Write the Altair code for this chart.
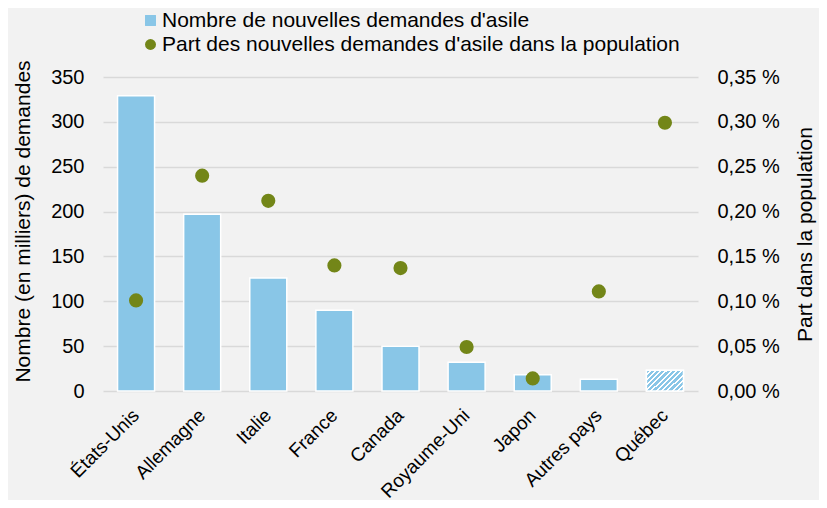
import altair as alt
import pandas as pd

pays = ["États-Unis", "Allemagne", "Italie", "France", "Canada",
        "Royaume-Uni", "Japon", "Autres pays", "Québec"]
demandes = [329, 197, 126, 90, 50, 32, 18, 13, 23]
part = [0.101, 0.240, 0.212, 0.140, 0.137, 0.049, 0.014, 0.111, 0.299]

serie_barres = "Nombre de nouvelles demandes d'asile"
serie_points = "Part des nouvelles demandes d'asile dans la population"
hachure = "Québec"

BLUE = "#89c6e7"
OLIVE = "#738618"
FONT = "Liberation Sans"

df_b = pd.DataFrame({"pays": pays, "demandes": demandes, "serie": serie_barres})
df_p = pd.DataFrame({"pays": pays, "part": part, "serie": serie_points})

x_enc = alt.X("pays:N", sort=pays, title=None,
              scale=alt.Scale(paddingInner=0.44, paddingOuter=0.22),
              axis=alt.Axis(labelAngle=-45, labelAlign="right", labelBaseline="middle",
                            labelPadding=21, ticks=False, domain=False,
                            labelFontSize=19, labelFont=FONT, labelColor="#000000"))

color_scale = alt.Scale(domain=[serie_barres, serie_points], range=[BLUE, OLIVE])
shape_scale = alt.Scale(domain=[serie_barres, serie_points], range=["square", "circle"])

legend = alt.Legend(title=None, orient="none", legendX=37, legendY=-67,
                    labelFontSize=21, labelFont=FONT, labelColor="#000000",
                    symbolSize=120, symbolStrokeWidth=0, labelOffset=1,
                    rowPadding=2, padding=0, labelLimit=800, direction="vertical")

y_left = alt.Y("demandes:Q",
               scale=alt.Scale(domain=[0, 350]),
               axis=alt.Axis(values=list(range(0, 351, 50)), title="Nombre (en milliers) de demandes",
                             ticks=False, domain=False, offset=13, labelPadding=6,
                             labelFontSize=20, labelFont=FONT, labelColor="#000000",
                             titleFontSize=21, titleFont=FONT, titleFontWeight="normal",
                             titleColor="#000000", titleAngle=-90, titleX=-67, titleY=144,
                             titleAlign="center", titleBaseline="middle",
                             grid=True, gridColor="#d9d9d9", gridWidth=1.5))

bars = alt.Chart(df_b).mark_bar(color=BLUE, stroke="white", strokeWidth=1.5).encode(
    x=x_enc,
    y=y_left,
)

stops = []
n = 12
for i in range(n):
    a = i / n
    b = (i + 0.62) / n
    c = (i + 1) / n
    stops.append(alt.GradientStop(color=BLUE, offset=a))
    stops.append(alt.GradientStop(color=BLUE, offset=b))
    stops.append(alt.GradientStop(color="#ffffff", offset=b))
    stops.append(alt.GradientStop(color="#ffffff", offset=c))

grad = alt.LinearGradient(gradient="linear", stops=stops, x1=0, y1=0, x2=1.3, y2=0.74)

quebec = alt.Chart(df_b).transform_filter(
    alt.datum.pays == hachure
).mark_bar(color=grad, stroke="white", strokeWidth=1.5).encode(
    x=x_enc,
    y=y_left,
)

y_right = alt.Y("part:Q",
                scale=alt.Scale(domain=[0, 0.35]),
                axis=alt.Axis(orient="right", values=[0, 0.05, 0.1, 0.15, 0.2, 0.25, 0.3, 0.35],
                              labelExpr="replace(format(datum.value, '.2f'), '.', ',') + ' %'",
                              title="Part dans la population", grid=False,
                              ticks=False, domain=False, labelPadding=19,
                              labelFontSize=20, labelFont=FONT, labelColor="#000000",
                              titleFontSize=21, titleFont=FONT, titleFontWeight="normal",
                              titleColor="#000000", titleAngle=-90, titleX=107, titleY=157,
                              titleAlign="center", titleBaseline="middle"))

points = alt.Chart(df_p).mark_point(size=200, opacity=1, filled=True).encode(
    x=x_enc,
    y=y_right,
    color=alt.Color("serie:N", scale=color_scale, legend=legend),
    shape=alt.Shape("serie:N", scale=shape_scale, legend=legend),
)

left = alt.layer(bars, quebec)
chart = alt.layer(left, points).resolve_scale(y="independent").properties(
    width=595, height=314,
    autosize=alt.AutoSizeParams(type="none"),
    padding={"left": 95, "top": 69, "right": 121, "bottom": 109},
    background="#f2f2f2",
).configure_view(stroke=None)

chart.save("out.html", embed_options={"renderer": "svg", "actions": False})
